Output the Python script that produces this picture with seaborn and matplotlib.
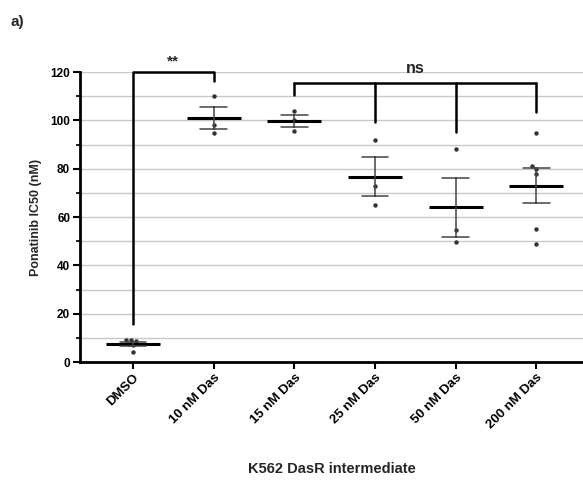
import numpy as np
import pandas as pd
import seaborn as sns
import matplotlib.pyplot as plt
from matplotlib.ticker import MultipleLocator

sns.set_style("white")
plt.rcParams['font.family'] = ['Liberation Sans', 'DejaVu Sans']

groups = ['DMSO', '10 nM Das', '15 nM Das', '25 nM Das', '50 nM Das', '200 nM Das']
dmso = [9, 8.5, 7, 7.5, 9, 4]
das10 = [110, 98, 95]
das15 = [104, 100, 95.5]
das25 = [92, 73, 65]
das50 = [88, 54.5, 49.5]
das200 = [95, 81, 80, 78, 55, 49]

values = [dmso, das10, das15, das25, das50, das200]
df = pd.DataFrame({
    'group': np.repeat(groups, [len(v) for v in values]),
    'ic50': np.concatenate(values),
})

fig = plt.figure(figsize=(5.83, 4.84), dpi=100)
ax = fig.add_axes([0.137, 0.252, 0.863, 0.599])

# grid lines every 10 nM
for yv in range(10, 121, 10):
    ax.axhline(yv, color='#c8c8c8', lw=1.0, zorder=0)

sns.swarmplot(data=df, x='group', y='ic50', order=groups, color='#333333',
              size=3.2, ax=ax, zorder=3)
sns.pointplot(data=df, x='group', y='ic50', order=groups, errorbar='se',
              capsize=0.33, linestyle='none', marker='_', markersize=39,
              markeredgewidth=2.2, color='black',
              err_kws={'linewidth': 1.1, 'color': '#444444'}, ax=ax, zorder=4)

ax.set_xlim(-0.66, 5.58)
ax.set_ylim(0, 120)
ax.yaxis.set_major_locator(MultipleLocator(20))
ax.yaxis.set_minor_locator(MultipleLocator(10))

for s in ['top', 'right']:
    ax.spines[s].set_visible(False)
for s in ['left', 'bottom']:
    ax.spines[s].set_linewidth(2)
    ax.spines[s].set_color('black')

ax.tick_params(axis='both', which='major', direction='out', length=5, width=1.5,
               colors='black', labelsize=8.5, left=True, bottom=True, pad=2)
ax.tick_params(axis='y', which='minor', direction='out', length=3, width=1.5,
               left=True)
for lab in ax.get_yticklabels():
    lab.set_fontweight('bold')
ax.set_xticks(range(len(groups)))
ax.set_xticklabels(groups, rotation=45, ha='right', rotation_mode='anchor',
                   fontweight='bold', fontsize=9.5)

ax.set_ylabel('Ponatinib IC50 (nM)', fontsize=9, fontweight='bold', labelpad=6)
ax.set_xlabel('K562 DasR intermediate', fontsize=10.5, fontweight='bold',
              labelpad=22)

# significance brackets
bk = dict(color='black', lw=1.8, clip_on=False, zorder=5)
ax.plot([0, 0, 1, 1], [15.7, 120, 120, 116.4], **bk)
ax.text(0.5, 121.5, '**', ha='center', va='bottom', fontsize=11, fontweight='bold')

ax.plot([2, 5], [115.7, 115.7], **bk)
for xi, yb in zip([2, 3, 4, 5], [110.5, 99.4, 95.3, 103.6]):
    ax.plot([xi, xi], [115.7, yb], **bk)
ax.text(3.5, 118.5, 'ns', ha='center', va='bottom', fontsize=11.5, fontweight='bold')

fig.text(0.018, 0.97, 'a)', ha='left', va='top', fontsize=11, fontweight='bold')

fig.savefig('out.png', dpi=100)
